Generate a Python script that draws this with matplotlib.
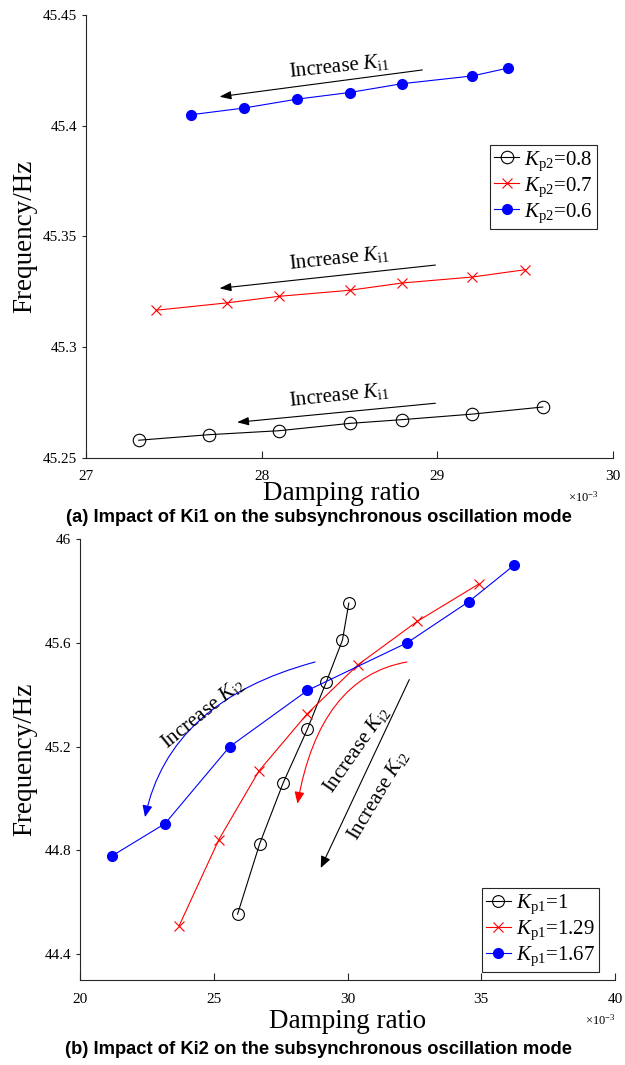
"""
Frequency vs damping ratio of the subsynchronous oscillation mode for
different Ki1 / Ki2 sweeps.
"""

import matplotlib
matplotlib.use('Agg')
import matplotlib.pyplot as plt

plt.rcParams['font.family'] = ['Liberation Serif', 'DejaVu Serif']
plt.rcParams['mathtext.fontset'] = 'custom'
plt.rcParams['mathtext.rm'] = 'Liberation Serif'
plt.rcParams['mathtext.it'] = 'Liberation Serif:italic'

AXCOL = '#262626'

# (a) Ki1 sweep, damping ratio in 1e-3
# ----------------------------------------------------------------------------
zeta_a_08 = [27.3, 27.7, 28.1, 28.5, 28.8, 29.2, 29.6]
f_a_08 = [45.258, 45.2605, 45.2623, 45.2656, 45.2673, 45.2698, 45.273]
zeta_a_07 = [27.4, 27.8, 28.1, 28.5, 28.8, 29.2, 29.5]
f_a_07 = [45.3167, 45.320, 45.323, 45.3257, 45.329, 45.3317, 45.335]
zeta_a_06 = [27.6, 27.9, 28.2, 28.5, 28.8, 29.2, 29.4]
f_a_06 = [45.405, 45.408, 45.412, 45.415, 45.419, 45.4225, 45.426]
labels_a = [r'$\mathit{K}_{\mathrm{p2}}$=0.8', r'$\mathit{K}_{\mathrm{p2}}$=0.7',
            r'$\mathit{K}_{\mathrm{p2}}$=0.6']

# (b) Ki2 sweep
# ----------------------------------------------------------------------------
zeta_b_1 = [25.89, 26.72, 27.6, 28.5, 29.2, 29.81, 30.05]
f_b_1 = [44.554, 44.826, 45.061, 45.267, 45.447, 45.61, 45.753]
zeta_b_129 = [23.71, 25.19, 26.69, 28.5, 30.39, 32.6, 34.9]
f_b_129 = [44.51, 44.841, 45.106, 45.327, 45.515, 45.682, 45.826]
zeta_b_167 = [21.19, 23.18, 25.59, 28.5, 32.23, 34.54, 36.24]
f_b_167 = [44.778, 44.903, 45.199, 45.416, 45.6, 45.759, 45.90]
labels_b = [r'$\mathit{K}_{\mathrm{p1}}$=1', r'$\mathit{K}_{\mathrm{p1}}$=1.29',
            r'$\mathit{K}_{\mathrm{p1}}$=1.67']

ki1 = r'Increase $\mathit{K}_{\mathrm{i1}}$'
ki2 = r'Increase $\mathit{K}_{\mathrm{i2}}$'


def style(ax):
    for s in ('top', 'right'):
        ax.spines[s].set_visible(False)
    for s in ('left', 'bottom'):
        ax.spines[s].set_color(AXCOL)
        ax.spines[s].set_linewidth(0.8)
    ax.tick_params(axis='y', direction='out', length=3, width=0.8, colors=AXCOL,
                   labelcolor='black', labelsize=11)
    ax.tick_params(axis='x', direction='in', length=5, width=0.8, colors=AXCOL,
                   labelcolor='black', labelsize=11, pad=9)


def legend(ax, anchor):
    leg = ax.legend(loc='upper left', bbox_to_anchor=anchor, borderaxespad=0,
                    fontsize=15, handlelength=1.2, handletextpad=0.25, labelspacing=0.12,
                    borderpad=0.2, fancybox=False, edgecolor=AXCOL, framealpha=1)
    leg.get_frame().set_linewidth(0.8)


fig = plt.figure(figsize=(6.25, 10.65), dpi=100)

# Plot (a)
# ----------------------------------------------------------------------------
ax = fig.add_axes([0.1376, 0.5700, 0.8432, 0.4159])
ax.plot(zeta_a_08, f_a_08, '-o', color='black', mfc='none', ms=9, lw=0.8, mew=0.8, label=labels_a[0])
ax.plot(zeta_a_07, f_a_07, '-x', color='red', ms=7, lw=0.8, mew=0.8, label=labels_a[1])
ax.plot(zeta_a_06, f_a_06, '-o', color='blue', ms=7, lw=0.8, label=labels_a[2])
ax.set_xlim(27, 30)
ax.set_ylim(45.25, 45.45)
ax.set_xticks([27, 28, 29, 30])
ax.set_xticklabels(['27', '28', '29', '30'])
ax.set_yticks([45.25, 45.3, 45.35, 45.4, 45.45])
ax.set_yticklabels(['45.25', '45.3', '45.35', '45.4', '45.45'])
style(ax)

arr = dict(arrowstyle='-|>,head_length=0.7,head_width=0.25', color='black', lw=0.8,
           shrinkA=0, shrinkB=0, mutation_scale=10)
ax.annotate('', xy=(27.76, 45.4131), xytext=(28.915, 45.4252), arrowprops=arr)
ax.annotate('', xy=(27.76, 45.3266), xytext=(28.989, 45.3371), arrowprops=arr)
ax.annotate('', xy=(27.86, 45.2661), xytext=(28.989, 45.2747), arrowprops=arr)
for ytxt in (45.427, 45.3403, 45.2784):
    ax.text(28.44, ytxt, ki1, fontsize=15, rotation=6, ha='center', va='center',
            rotation_mode='anchor')

legend(ax, (0.7666, 0.7065))

ax.set_xlabel('Damping ratio', fontsize=19.5)
ax.xaxis.set_label_coords(0.484, -0.0813)
ax.xaxis.label.set_va('center')
ax.set_ylabel('Frequency/Hz', fontsize=19.5, va='center')
ax.yaxis.set_label_coords(-0.1157, 0.5)
fig.text(583 / 625, 1 - 497 / 1065, r'$\times$10$^{-3}$', fontsize=9, ha='center', va='center')
fig.text(0.51, 1 - 518 / 1065, '(a) Impact of Ki1 on the subsynchronous oscillation mode',
         family='Liberation Sans', weight='bold', fontsize=13.2, ha='center', va='center')

# Plot (b)
# ----------------------------------------------------------------------------
ax = fig.add_axes([0.128, 0.0798, 0.856, 0.4141])
ax.plot(zeta_b_1, f_b_1, '-o', color='black', mfc='none', ms=8.5, lw=0.8, mew=0.8, label=labels_b[0])
ax.plot(zeta_b_129, f_b_129, '-x', color='red', ms=7, lw=0.8, mew=0.8, label=labels_b[1])
ax.plot(zeta_b_167, f_b_167, '-o', color='blue', ms=7, lw=0.8, label=labels_b[2])
ax.set_xlim(20, 40)
ax.set_ylim(44.3, 46)
ax.set_xticks([20, 25, 30, 35, 40])
ax.set_yticks([44.4, 44.8, 45.2, 45.6, 46])
ax.set_yticklabels(['44.4', '44.8', '45.2', '45.6', '46'])
style(ax)

arrb = dict(arrowstyle='-|>,head_length=0.7,head_width=0.3', color='blue', lw=0.8,
            shrinkA=0, shrinkB=0, mutation_scale=10,
            connectionstyle='angle3,angleA=15,angleB=78')
ax.annotate('', xy=(22.43, 44.928), xytext=(28.79, 45.526), arrowprops=arrb)
arrr = dict(arrb, color='red', connectionstyle='angle3,angleA=10,angleB=80')
ax.annotate('', xy=(28.13, 44.98), xytext=(32.22, 45.526), arrowprops=arrr)
arrk = dict(arrb, color='black', connectionstyle='arc3,rad=0')
ax.annotate('', xy=(29.0, 44.732), xytext=(32.31, 45.458), arrowprops=arrk)
ax.text(24.6, 45.329, ki2, fontsize=15, rotation=39, ha='center', va='center',
        rotation_mode='anchor')
ax.text(30.35, 45.19, ki2, fontsize=15, rotation=55, ha='center', va='center',
        rotation_mode='anchor')
ax.text(31.14, 45.013, ki2, fontsize=15, rotation=59, ha='center', va='center',
        rotation_mode='anchor')

legend(ax, (0.7508, 0.208))

ax.set_xlabel('Damping ratio', fontsize=19.5)
ax.xaxis.set_label_coords(0.5, -0.093)
ax.xaxis.label.set_va('center')
ax.set_ylabel('Frequency/Hz', fontsize=19.5, va='center')
ax.yaxis.set_label_coords(-0.1028, 0.5)
fig.text(600 / 625, 1 - 1020 / 1065, r'$\times$10$^{-3}$', fontsize=9, ha='center', va='center')
fig.text(0.51, 1 - 1050 / 1065, '(b) Impact of Ki2 on the subsynchronous oscillation mode',
         family='Liberation Sans', weight='bold', fontsize=13.2, ha='center', va='center')

fig.savefig('out.png', dpi=100)
